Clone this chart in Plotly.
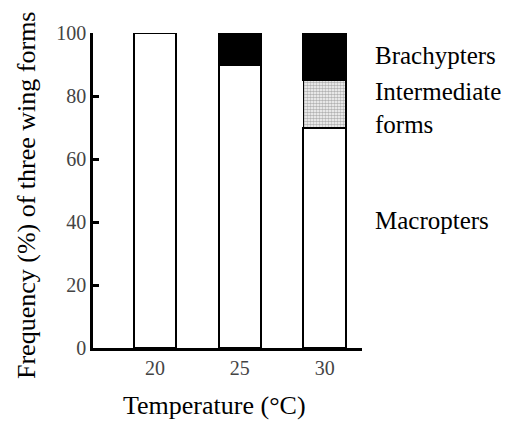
import plotly.graph_objects as go

temps = [20, 25, 30]
macropters = [100, 90, 70]
intermediate = [0, 0, 15]
brachypters = [0, 10, 15]
yticks = [0, 20, 40, 60, 80, 100]

font_family = "Liberation Serif, Times New Roman, serif"

fig = go.Figure()
fig.add_trace(go.Bar(x=temps, y=macropters, name="Macropters", width=2.5,
                     marker=dict(color="white", line=dict(color="black", width=2))))
fig.add_trace(go.Bar(x=temps, y=intermediate, name="Intermediate forms", width=2.5,
                     marker=dict(color="white", line=dict(color="black", width=1.5),
                                 pattern=dict(shape=".", size=3, solidity=0.6,
                                              fgcolor="#666", bgcolor="white"))))
fig.add_trace(go.Bar(x=temps, y=brachypters, name="Brachypters", width=2.5,
                     marker=dict(color="black", line=dict(color="black", width=2))))

fig.update_layout(
    barmode="stack",
    width=517, height=424,
    margin=dict(l=93, r=155, t=33, b=76),
    plot_bgcolor="white", paper_bgcolor="white",
    showlegend=False,
    font=dict(family=font_family, color="black"),
    xaxis=dict(range=[16.35, 32.2], tickvals=temps, ticktext=[str(t) for t in temps],
               showline=True, linecolor="black", linewidth=2.5, ticks="",
               showgrid=False, zeroline=False,
               tickfont=dict(size=20, color="#444")),
    yaxis=dict(range=[0, 100], tickvals=yticks,
               showline=True, linecolor="black", linewidth=2.5,
               ticks="inside", ticklen=6, tickwidth=2.5, tickcolor="black",
               showgrid=False, zeroline=False,
               tickfont=dict(size=20, color="#444")),
)

# axis titles
fig.add_annotation(x=0.4535, xref="paper", y=-0.181, yref="paper",
                   text="Temperature (°C)", showarrow=False,
                   xanchor="center", yanchor="middle",
                   font=dict(size=26, family=font_family, color="black"))
fig.add_annotation(x=-0.245, xref="paper", y=0.486, yref="paper",
                   text="Frequency (%) of three wing forms", showarrow=False,
                   textangle=-90, xanchor="center", yanchor="middle",
                   font=dict(size=26, family=font_family, color="black"))

labels = [("Brachypters", 93), ("Intermediate", 81.5), ("forms", 71), ("Macropters", 40.5)]
for text, yv in labels:
    fig.add_annotation(x=1.04, xref="paper", y=yv, yref="y", text=text,
                       showarrow=False, xanchor="left", yanchor="middle",
                       font=dict(size=25, family=font_family, color="black"))

fig.write_html("out.html")
